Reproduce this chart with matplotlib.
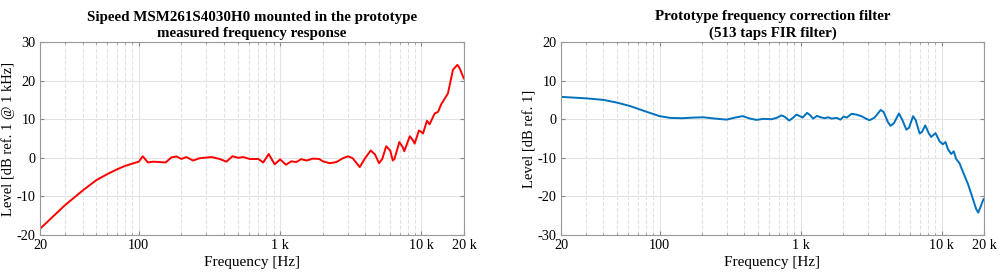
import matplotlib
matplotlib.use('Agg')
import matplotlib.pyplot as plt
from matplotlib.ticker import FixedLocator, NullFormatter

# measured response of the mic (left)
f_meas = [20, 30, 40, 50, 60, 70, 80, 90, 100, 106.7, 116, 126, 141, 155, 170, 185, 200, 217,
          242, 270, 327, 374, 417, 460, 505, 547, 610, 700, 760, 830, 915, 1000, 1100, 1200,
          1300, 1410, 1540, 1710, 1890, 2010, 2240, 2500, 2780, 3030, 3260, 3660, 3960, 4370,
          4690, 5010, 5280, 5630, 6010, 6270, 6440, 6980, 7360, 7560, 8270, 8720, 8950, 9600,
          9980, 10250, 10940, 11420, 12400, 13100, 13800, 15400, 16700, 17950, 18650, 19900]
lvl_meas = [-18.4, -12.3, -8.5, -5.8, -4.2, -3.0, -2.1, -1.5, -1.0, 0.4, -1.2, -1.0, -1.1, -1.2,
            0.1, 0.35, -0.3, 0.2, -0.7, -0.1, 0.2, -0.3, -1.0, 0.4, 0.0, 0.2, -0.3, -0.3, -1.2,
            1.0, -1.7, -0.4, -1.8, -0.9, -1.1, -0.35, -0.7, -0.2, -0.3, -0.9, -1.4, -1.1, -0.1,
            0.4, -0.1, -2.4, -0.3, 1.9, 0.9, -1.4, -0.3, 3.0, 1.9, -0.7, -0.3, 4.1, 2.8, 1.7,
            5.6, 4.5, 3.7, 7.1, 6.7, 6.3, 9.6, 8.7, 11.5, 11.9, 13.9, 16.7, 22.8, 24.1, 23.2, 20.6]

# correction filter (right)
f_filt = [20, 30.6, 40.2, 50, 62, 77, 100, 119, 144, 174, 205, 247, 299, 343, 389, 438, 488,
          544, 624, 676, 733, 775, 832, 888, 936, 989, 1033, 1113, 1177, 1227, 1310, 1390,
          1480, 1570, 1660, 1800, 1920, 2020, 2130, 2300, 2490, 2700, 2930, 3090, 3350, 3700,
          3880, 4160, 4340, 4580, 4990, 5280, 5630, 5880, 6280, 6560, 6990, 7260, 7660, 8130,
          8440, 9060, 9670, 10210, 10660, 11080, 11700, 12200, 12700, 13400, 14200, 15400,
          16700, 17600, 18200, 18900, 19850]
lvl_filt = [5.8, 5.4, 5.0, 4.3, 3.4, 2.2, 0.8, 0.35, 0.26, 0.43, 0.5, 0.17, -0.1, 0.43, 0.8,
            0.17, -0.17, 0.1, 0.0, 0.35, 1.0, 0.6, -0.35, 0.43, 1.2, 0.8, 0.43, 1.65, 0.96,
            0.17, 0.87, 0.5, 0.26, 0.5, 0.17, 0.35, -0.1, 0.7, 0.43, 1.4, 1.2, 0.8, 0.1, -0.26,
            0.43, 2.4, 1.9, -0.7, -1.7, -1.1, 1.5, -0.26, -2.7, -2.2, 0.8, -0.26, -3.7, -3.3,
            -1.6, -3.7, -4.6, -3.6, -5.7, -6.5, -5.9, -7.7, -9.0, -8.3, -10.3, -11.4, -13.7,
            -16.8, -20.7, -23.3, -24.2, -22.7, -20.7]

xticks = [20, 100, 1000, 10000, 20000]
xticklabels = ['20', '100', '1 k', '10 k', '20 k']
minor = [m * d for d in (10, 100, 1000) for m in range(2, 10)]

plt.rcParams['font.family'] = ['Liberation Serif', 'DejaVu Serif']
plt.rcParams['font.size'] = 10
plt.rcParams['axes.unicode_minus'] = False

fig = plt.figure(figsize=(10, 2.78), dpi=100)
ax1 = fig.add_axes([0.040, 0.1547, 0.424, 0.694])
ax2 = fig.add_axes([0.561, 0.1547, 0.423, 0.694])


def style(ax, ylim, ystep):
    ax.set_xscale('log')
    ax.set_xlim(20, 20000)
    ax.set_ylim(*ylim)
    ax.set_yticks(range(ylim[0], ylim[1] + 1, ystep))
    ax.xaxis.set_major_locator(FixedLocator(xticks))
    ax.set_xticklabels(xticklabels)
    ax.xaxis.set_minor_locator(FixedLocator([m for m in minor if 20 < m < 20000]))
    ax.xaxis.set_minor_formatter(NullFormatter())
    ax.grid(True, which='major', color='#e3e3e3', lw=0.8, ls='-')
    ax.grid(True, which='minor', axis='x', color='#e3e3e3', lw=0.8, ls='--')
    ax.set_axisbelow(True)
    ax.tick_params(which='both', direction='in', top=True, right=True, color='#888888',
                   labelsize=10.3, pad=3)
    ax.tick_params(which='major', length=3)
    ax.tick_params(which='minor', length=1.5)
    for s in ax.spines.values():
        s.set_color('#999999')
        s.set_linewidth(0.8)
    ax.set_xlabel('Frequency [Hz]', fontsize=11, labelpad=3)
    ax.yaxis.set_label_coords(-0.058, 0.5)


ax1.plot(f_meas, lvl_meas, color='#ff0000', lw=1.4)
style(ax1, (-20, 30), 10)
ax1.set_ylabel('Level [dB ref. 1 @ 1 kHz]', fontsize=10.5)
ax1.set_title('Sipeed MSM261S4030H0 mounted in the prototype\nmeasured frequency response',
              fontsize=10.8, fontweight='bold', pad=4, linespacing=1.3)

ax2.plot(f_filt, lvl_filt, color='#0072bd', lw=1.4)
style(ax2, (-30, 20), 10)
ax2.set_ylabel('Level [dB ref. 1]', fontsize=10.5)
ax2.set_title('Prototype frequency correction filter\n(513 taps FIR filter)',
              fontsize=10.8, fontweight='bold', pad=4, linespacing=1.3)

fig.savefig('out.png', dpi=100)
